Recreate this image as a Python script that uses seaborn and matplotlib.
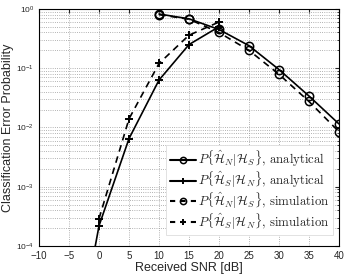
import matplotlib
matplotlib.use("Agg")
import matplotlib.pyplot as plt
from matplotlib.lines import Line2D
import seaborn as sns
import pandas as pd
import numpy as np

snr_ns = [10, 15, 20, 25, 30, 35, 40]
pns_analytical = [0.82, 0.68, 0.45, 0.24, 0.095, 0.034, 0.0115]
pns_simulation = [0.80, 0.67, 0.40, 0.20, 0.079, 0.0275, 0.0085]

snr_sn_an = [-1, 0, 5, 10, 15, 20]
psn_analytical = [6.3e-5, 2.2e-4, 0.0065, 0.063, 0.25, 0.50]
snr_sn_sim = [0, 5, 10, 15, 20]
psn_simulation = [2.9e-4, 0.014, 0.12, 0.36, 0.60]

xticks = [-10, -5, 0, 5, 10, 15, 20, 25, 30, 35, 40]

sns.set_style("white")
plt.rcParams['font.family'] = ['Liberation Sans', 'DejaVu Sans']
plt.rcParams['mathtext.fontset'] = 'cm'

fig = plt.figure(figsize=(3.49, 2.78), dpi=100)
ax = fig.add_axes([0.112, 0.115, 0.859, 0.853])

labels = [r"$P\{\hat{\mathcal{H}}_N|\mathcal{H}_S\}$, analytical",
          r"$P\{\hat{\mathcal{H}}_S|\mathcal{H}_N\}$, analytical",
          r"$P\{\hat{\mathcal{H}}_N|\mathcal{H}_S\}$, simulation",
          r"$P\{\hat{\mathcal{H}}_S|\mathcal{H}_N\}$, simulation"]

dash = (0, (4, 3))
circ = dict(marker='o', markerfacecolor='none', markeredgewidth=1.1, markersize=6)
plus = dict(marker='+', markeredgewidth=1.4, markersize=5.5)
common = dict(ax=ax, color='black', lw=1.2, markeredgecolor='black', sort=False)
sns.lineplot(x=snr_ns, y=pns_analytical, **circ, **common)
sns.lineplot(x=snr_sn_an, y=psn_analytical, markevery=[1, 2, 3, 4, 5], **plus, **common)
sns.lineplot(x=snr_ns, y=pns_simulation, linestyle=dash, **circ, **common)
sns.lineplot(x=snr_sn_sim, y=psn_simulation, linestyle=dash, **plus, **common)

ax.set_yscale('log')
ax.set_xlim(-10, 40)
ax.set_ylim(1e-4, 1)
ax.set_xticks(xticks)
ax.set_xticklabels([("\u2212%d" % -t) if t < 0 else str(t) for t in xticks], fontsize=7)
ax.tick_params(axis='y', labelsize=6)
ax.tick_params(which='both', direction='in', top=True, right=True, length=3)
ax.tick_params(which='minor', length=1.5)
ax.grid(True, which='major', linestyle=':', color='#999999', lw=0.6)
ax.grid(True, which='minor', axis='y', linestyle=':', color='#999999', lw=0.6)
for s in ax.spines.values():
    s.set_color('black')
    s.set_linewidth(0.8)

ax.set_xlabel("Received SNR [dB]", fontsize=9, labelpad=1)
ax.set_ylabel("Classification Error Probability", fontsize=9, labelpad=2)

lcirc = dict(circ, markersize=4.5)
lplus = dict(plus, markersize=4.5)
ldash = (0, (2.5, 2.5))
proxies = [
    Line2D([], [], color='black', lw=1.5, markeredgecolor='black', **lcirc),
    Line2D([], [], color='black', lw=1.5, markeredgecolor='black', **lplus),
    Line2D([], [], color='black', lw=1.5, linestyle=ldash, markeredgecolor='black', **lcirc),
    Line2D([], [], color='black', lw=1.5, linestyle=ldash, markeredgecolor='black', **lplus),
]
leg = ax.legend(proxies, labels, loc='lower right', bbox_to_anchor=(0.98, 0.045),
                prop={'family': 'cmr10', 'size': 9.2},
                handlelength=2.1, handletextpad=0.1, borderaxespad=0.0, numpoints=1,
                frameon=True, fancybox=False, framealpha=1, edgecolor='#dddddd',
                labelspacing=0.0, borderpad=0.3)
leg.get_frame().set_linewidth(0.6)

fig.savefig("out.png", dpi=100)
